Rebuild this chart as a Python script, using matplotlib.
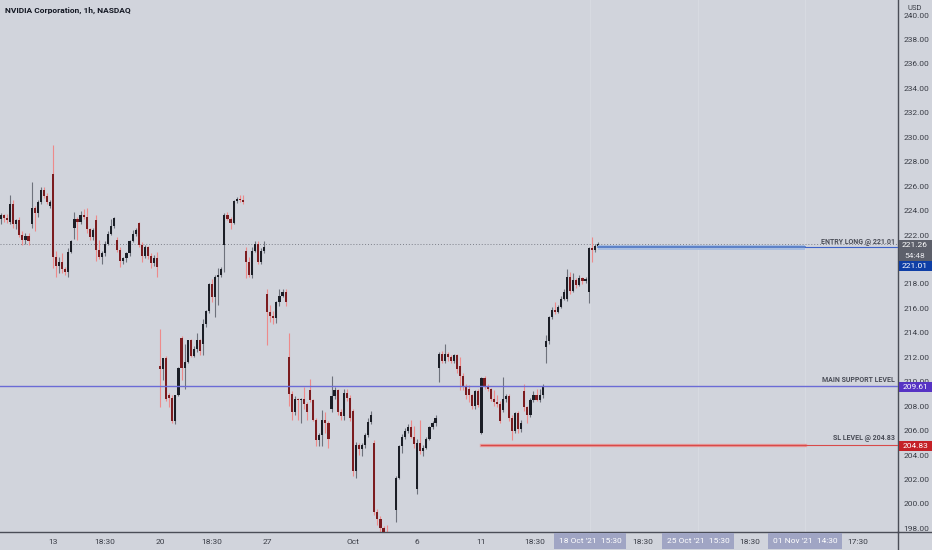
import matplotlib
matplotlib.use("Agg")
import matplotlib.pyplot as plt
import matplotlib.transforms as mtransforms
from matplotlib.patches import Rectangle

plt.rcParams['font.family'] = ['Roboto', 'DejaVu Sans']

W, H = 932, 550

# hourly candles, Sep 8 -> Oct 18 2021 (7 bars per session)
opens = [223.3, 223.6, 223.4, 223.1, 224.5, 222.9, 223.2, 222.0, 221.6, 221.9,
         222.9, 224.2, 223.8, 224.7, 225.7, 225.2, 224.4,
         227.0, 220.2, 219.5, 219.8, 219.2, 219.0, 220.6,
         222.6, 223.3, 223.1, 223.6, 223.5, 222.5, 221.8,
         223.2, 220.8, 220.2, 220.5, 221.3, 222.1, 222.7,
         221.6, 220.8, 219.9, 220.1, 220.5, 221.5, 222.1,
         223.0, 221.2, 220.3, 221.0, 220.3, 219.7, 220.1,
         211.3, 211.0, 211.9, 208.9, 208.7, 206.8, 208.9,
         213.6, 211.1, 211.6, 213.4, 212.1, 212.7, 213.4,
         213.1, 214.7, 215.8, 218.0, 216.9, 218.6, 218.7,
         221.2, 223.6, 223.3, 223.0, 224.8, 224.95, 224.85,
         220.7, 219.8, 218.7, 220.7, 221.3, 219.8, 220.7,
         217.2, 215.7, 215.4, 215.2, 216.5, 217.0, 217.3,
         212.0, 209.0, 207.5, 208.6, 208.5, 208.6, 208.2,
         209.3, 208.5, 206.9, 205.2, 205.6, 206.9, 206.6,
         207.8, 208.8, 209.3, 207.5, 207.2, 209.1, 208.7,
         207.6, 202.7, 204.8, 204.5, 204.8, 205.6, 206.7,
         205.0, 199.3, 198.8, 198.0, 197.6, 197.0, 197.3,
         199.5, 202.1, 204.7, 205.5, 206.0, 206.3, 205.5,
         201.2, 205.0, 204.3, 204.6, 205.3, 206.3, 206.6,
         211.1, 212.3, 211.7, 212.3, 212.0, 211.7, 212.2,
         211.3, 210.5, 209.6, 209.4, 208.9, 208.0, 209.2,
         205.8, 210.3, 209.6, 209.4, 208.6, 208.3, 208.2,
         207.7, 208.6, 208.8, 207.0, 206.0, 207.4, 206.1,
         209.2, 207.9, 207.3, 208.5, 208.9, 208.5, 208.9,
         212.8, 213.3, 215.3, 215.9, 215.7, 216.1, 216.8,
         216.8, 218.6, 217.4, 218.3, 217.9, 218.5, 218.2,
         217.3, 220.9, 220.8, 221.1]
highs = [223.8, 223.7, 223.7, 225.3, 224.9, 223.3, 223.5, 222.3, 222.2, 222.2,
         226.3, 224.4, 224.9, 225.9, 225.9, 225.4, 224.9,
         229.4, 220.7, 220.2, 220.5, 219.4, 220.9, 221.6,
         223.9, 223.5, 224.0, 224.1, 224.2, 222.6, 222.6,
         223.6, 221.6, 220.7, 221.5, 222.3, 223.3, 223.5,
         221.8, 221.0, 220.2, 220.6, 221.6, 222.4, 222.6,
         223.1, 221.4, 221.2, 221.1, 220.5, 220.4, 220.6,
         214.3, 211.9, 212.1, 209.1, 208.9, 208.9, 211.2,
         213.7, 213.1, 213.4, 213.5, 212.9, 214.0, 213.5,
         215.1, 215.9, 218.1, 218.4, 218.7, 219.3, 219.4,
         223.8, 223.9, 223.5, 224.9, 225.1, 225.3, 225.3,
         221.0, 220.2, 221.0, 221.5, 221.5, 220.9, 221.5,
         217.6, 216.3, 215.8, 216.6, 217.6, 217.6, 217.6,
         214.0, 209.2, 208.8, 208.7, 208.7, 209.6, 208.3,
         210.2, 208.6, 207.0, 205.8, 207.7, 207.5, 206.8,
         210.5, 209.6, 209.4, 207.8, 209.4, 209.4, 208.9,
         207.8, 205.1, 205.0, 205.0, 205.8, 207.0, 207.6,
         205.2, 199.6, 199.0, 198.2, 198.3, 197.6, 197.6,
         202.3, 204.8, 205.7, 206.2, 206.5, 206.9, 206.4,
         205.3, 206.9, 204.8, 205.5, 206.4, 206.8, 207.3,
         212.4, 212.5, 213.1, 212.4, 212.2, 212.3, 212.3,
         212.0, 210.7, 209.8, 209.7, 209.0, 209.3, 209.4,
         210.4, 210.5, 209.8, 209.5, 209.3, 208.9, 208.4,
         210.4, 209.0, 209.0, 207.3, 207.5, 207.6, 206.9,
         209.8, 208.0, 208.7, 209.2, 209.4, 209.4, 209.8,
         213.8, 215.4, 216.1, 216.5, 216.3, 217.0, 217.6,
         219.2, 219.0, 218.9, 218.5, 218.7, 218.6, 218.6,
         221.0, 221.8, 221.3, 221.4]
lows = [222.9, 223.1, 223.0, 222.9, 222.6, 222.5, 221.8, 221.2, 221.3, 221.2,
        222.6, 222.3, 223.5, 224.5, 225.0, 224.5, 224.2,
        219.3, 218.6, 218.9, 218.9, 218.7, 218.6, 220.5,
        221.7, 221.6, 222.9, 223.3, 222.2, 221.6, 221.6,
        219.9, 220.0, 219.6, 220.3, 221.2, 222.0, 222.6,
        220.6, 219.4, 219.6, 219.8, 220.3, 221.4, 221.9,
        221.0, 219.8, 220.1, 220.0, 219.3, 219.5, 218.6,
        207.9, 210.1, 208.4, 207.9, 206.6, 206.5, 208.8,
        210.1, 209.4, 211.5, 212.0, 212.0, 212.4, 212.2,
        212.2, 214.5, 215.6, 216.5, 215.3, 216.3, 218.6,
        219.0, 223.2, 222.5, 222.9, 224.6, 224.7, 224.5,
        218.5, 218.6, 218.5, 220.6, 219.6, 219.6, 220.5,
        213.0, 214.9, 214.7, 214.8, 216.2, 216.9, 216.2,
        208.0, 206.9, 207.3, 206.9, 206.6, 207.8, 206.9,
        208.3, 206.8, 204.7, 204.7, 204.7, 205.8, 204.6,
        207.5, 208.6, 207.3, 206.9, 206.9, 208.4, 206.8,
        202.3, 202.1, 204.0, 203.9, 204.6, 205.5, 206.5,
        199.1, 198.3, 197.6, 197.3, 196.8, 196.6, 196.9,
        198.5, 202.0, 204.2, 205.3, 205.8, 205.4, 204.6,
        200.8, 204.1, 203.9, 204.5, 205.2, 206.1, 206.4,
        210.0, 211.5, 211.5, 211.7, 211.5, 211.5, 210.7,
        209.3, 209.3, 208.6, 208.3, 207.8, 207.8, 207.9,
        205.7, 209.4, 209.2, 208.4, 208.0, 207.9, 206.6,
        207.5, 208.3, 206.8, 205.2, 205.8, 205.8, 205.9,
        207.6, 206.6, 207.1, 208.3, 208.4, 208.3, 208.7,
        211.5, 213.1, 215.1, 215.5, 215.6, 216.0, 216.7,
        216.6, 217.2, 217.3, 217.7, 217.8, 218.0, 218.1,
        216.4, 219.8, 220.6, 221.0]
closes = [223.6, 223.4, 223.2, 224.5, 222.9, 223.2, 222.0, 221.6, 221.9, 221.5,
          224.2, 223.8, 224.7, 225.7, 225.2, 224.7, 224.7,
          220.2, 219.5, 219.8, 219.2, 219.0, 220.6, 221.5,
          223.3, 223.1, 223.6, 223.5, 222.5, 221.8, 222.4,
          220.8, 220.2, 220.5, 221.3, 222.1, 222.7, 223.4,
          220.8, 219.9, 220.1, 220.5, 221.5, 222.1, 222.4,
          221.2, 220.3, 221.0, 220.3, 219.7, 220.1, 219.4,
          211.0, 211.9, 208.6, 208.7, 206.8, 208.9, 211.1,
          211.1, 211.6, 213.4, 212.1, 212.7, 213.4, 212.5,
          214.7, 215.8, 218.0, 216.9, 218.6, 218.7, 219.2,
          223.6, 223.3, 223.0, 224.8, 224.95, 224.85, 224.7,
          219.8, 218.7, 220.7, 221.3, 219.8, 220.7, 221.0,
          215.7, 215.4, 215.2, 216.5, 217.0, 217.3, 216.5,
          209.0, 207.5, 208.6, 208.5, 208.6, 208.2, 207.5,
          208.5, 206.9, 205.2, 205.6, 206.9, 206.6, 205.3,
          208.8, 209.3, 207.5, 207.2, 209.1, 208.7, 207.0,
          202.7, 204.8, 204.5, 204.8, 205.6, 206.7, 207.3,
          199.3, 198.8, 198.0, 197.6, 197.0, 197.3, 197.5,
          202.1, 204.7, 205.5, 206.0, 206.3, 205.5, 204.9,
          205.0, 204.3, 204.6, 205.3, 206.3, 206.6, 207.0,
          212.3, 211.7, 212.3, 212.0, 211.7, 212.2, 211.0,
          210.5, 209.6, 208.9, 208.9, 208.0, 209.2, 208.1,
          210.3, 209.6, 209.4, 208.6, 208.3, 208.2, 206.8,
          208.6, 208.8, 207.0, 206.0, 207.4, 206.1, 206.6,
          207.9, 207.3, 208.5, 208.9, 208.5, 208.9, 209.6,
          213.3, 215.3, 215.9, 215.7, 216.1, 216.8, 217.3,
          218.6, 217.4, 218.3, 217.9, 218.5, 218.2, 218.4,
          220.9, 220.8, 221.1, 221.26]

last_price = 221.26
entry_price = 221.01
support_price = 209.61
sl_price = 204.83
countdown = "54:48"
title = "NVIDIA Corporation, 1h, NASDAQ"

tick_labels = ["13", "18:30", "20", "18:30", "27", "Oct", "6", "11",
               "18:30", "18:30", "18:30", "17:30"]
tick_bars = [17, 34, 52, 69, 87, 115, 136, 157, 174.5, 209.8, 244.8, 280]
boxed_labels = ["18 Oct '21  15:30", "25 Oct '21  15:30", "01 Nov '21  14:30"]
boxed_bars = [192.5, 227.9, 262.8]
price_ticks = list(range(198, 242, 2))

bg = '#d1d4dc'
txt = '#3a3d46'
up_body, up_wick = '#1b1e26', '#6e727c'
dn_body, dn_wick = '#7b1c1f', '#ee8a8a'

fig = plt.figure(figsize=(W / 100, H / 100), dpi=100, facecolor=bg)
ax = fig.add_axes([0, 18 / H, 898 / W, 532 / H], facecolor=bg)

n = len(closes)
for i in range(n):
    o, h, l, c = opens[i], highs[i], lows[i], closes[i]
    up = c >= o
    ax.vlines(i, l, h, color=up_wick if up else dn_wick, lw=0.8, zorder=2)
    ax.bar(i, max(abs(c - o), 0.07), bottom=min(o, c), width=0.7,
           color=up_body if up else dn_body, lw=0, zorder=3)

end_bar = 262.8
# faint vertical grid in the future area
for b in boxed_bars:
    ax.axvline(b, color='#d8dbe2', lw=0.7, zorder=1)

# last price dotted line
ax.axhline(last_price, color='#7d808a', lw=0.7, ls=(0, (1, 2)), zorder=1)
# support
ax.axhline(support_price, color='#6b6bd6', lw=1.0, zorder=4)
# entry band
ax.fill_between([n - 1, end_bar], entry_price - 0.24, entry_price + 0.17,
                color='#a8bde0', lw=0, zorder=4)
ax.plot([n - 1, end_bar], [entry_price, entry_price], color='#4f77c4', lw=1.2, zorder=5)
ax.plot([end_bar, 300], [entry_price, entry_price], color='#3e63c8', lw=0.8, zorder=5)
# stop loss
ax.plot([157, end_bar], [sl_price, sl_price], color='#e8a3a3', lw=2.4, zorder=4)
ax.plot([157, end_bar], [sl_price, sl_price], color='#d84a4a', lw=1.0, zorder=5)
ax.plot([end_bar, 300], [sl_price, sl_price], color='#d84a4a', lw=0.8, zorder=5)

ax.set_xlim(-0.32, 293.1)
ax.set_ylim(197.7, 241.23)

ax.yaxis.tick_right()
ax.set_yticks(price_ticks)
ax.set_yticklabels([f"{p:.2f}" for p in price_ticks], fontsize=6, color=txt)
ax.set_xticks(tick_bars)
ax.set_xticklabels(tick_labels, fontsize=6, color=txt)
ax.tick_params(axis='both', length=0)
ax.tick_params(axis='y', pad=4)
ax.tick_params(axis='x', pad=5)
for s in ['top', 'left']:
    ax.spines[s].set_visible(False)
for s in ['right', 'bottom']:
    ax.spines[s].set_color('#4a4d57')
    ax.spines[s].set_linewidth(1.0)
fig.add_artist(plt.Line2D([898 / W, 898 / W], [0, 18 / H], color='#4a4d57', lw=1.0))
fig.add_artist(plt.Line2D([898 / W, 1], [18 / H, 18 / H], color='#4a4d57', lw=1.0))

bx = mtransforms.blended_transform_factory(ax.transData, ax.transAxes)
for lab, b in zip(boxed_labels, boxed_bars):
    ax.text(b, -9 / 532, lab, transform=bx, ha='center', va='center', fontsize=6,
            color='white', clip_on=False,
            bbox=dict(boxstyle='square,pad=0.55', fc='#a0a5c4', ec='none'))

# annotations on the chart
ty = mtransforms.blended_transform_factory(ax.transAxes, ax.transData)
lab_kw = dict(transform=ty, ha='right', va='bottom', fontsize=5,
              fontweight='bold', color='#4a4d57', zorder=6)
ax.text(895 / 898, entry_price + 0.12, "ENTRY LONG @ 221.01", **lab_kw)
ax.text(895 / 898, support_price + 0.22, "MAIN SUPPORT LEVEL", **lab_kw)
ax.text(895 / 898, sl_price + 0.22, "SL LEVEL @ 204.83", **lab_kw)


def px_box(y0, y1, color):
    fig.add_artist(Rectangle((899 / W, 1 - y1 / H), 33 / W, (y1 - y0) / H,
                             transform=fig.transFigure, fc=color, ec='none', zorder=10))


def px_text(x, y, s, **kw):
    fig.text(x / W, 1 - y / H, s, **kw)


px_box(240, 261, '#5d606b')
px_text(915, 245.5, f"{last_price:.2f}", ha='center', va='center', fontsize=6,
        color='white', zorder=11)
px_text(915, 255.5, countdown, ha='center', va='center', fontsize=6,
        color='#e4e5ea', zorder=11)
px_box(261, 271, '#0f3fa6')
px_text(915, 266, f"{entry_price:.2f}", ha='center', va='center', fontsize=6,
        color='white', zorder=11)
px_box(382, 392, '#5633c4')
px_text(915, 387, f"{support_price:.2f}", ha='center', va='center', fontsize=6,
        color='white', zorder=11)
px_box(441, 451, '#c42127')
px_text(915, 446, f"{sl_price:.2f}", ha='center', va='center', fontsize=6,
        color='white', zorder=11)

px_text(915, 8, "USD", ha='center', va='center', fontsize=5.5, color=txt)
px_text(5, 10, title, ha='left', va='center', fontsize=6, fontweight='bold',
        color='#131722')

fig.savefig("out.png", dpi=100, facecolor=bg)
